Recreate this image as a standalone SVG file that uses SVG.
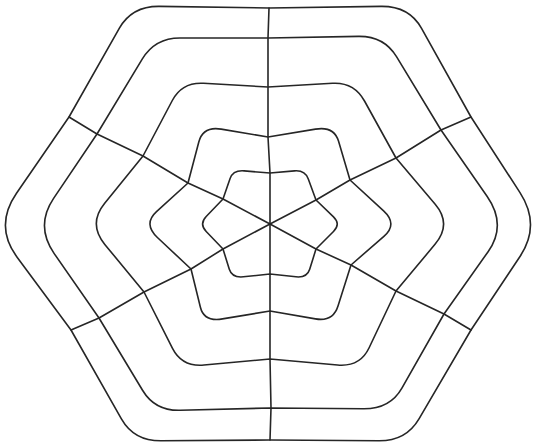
<svg xmlns="http://www.w3.org/2000/svg" width="533" height="447" viewBox="0 0 533 447">
<style>
.w{fill:none;stroke:#262626;stroke-width:1.6;stroke-linejoin:round;stroke-linecap:round}
</style>
<rect width="533" height="447" fill="#ffffff"/>
<g id="rings" class="w">
<path id="ring1" d="M269,8 L381,6.4 Q409,6 421.4,28.2 L471,117 L520,192.6 Q541,225 520,256.5 L471,330 L419,418.8 Q406,441 378.8,440.8 L270,440 L161.2,440.8 Q134,441 121.4,418.8 L71,330 L17.1,257.2 Q-6,226 16.5,193.3 L69,117 L119.4,28.2 Q132,6 159.4,6.4 Z"/>
<path id="ring2" d="M268,38 L358.5,36.4 Q384,36 396.5,56.7 L441,130 L487.2,196.5 Q507,225 488.1,251.7 L444,314 L401.9,388.1 Q390,409 363.6,408.8 L270,408 L180.3,410.3 Q155,411 142.7,390.5 L99,318 L54.2,253.6 Q35,226 53.6,198.4 L97,134 L142.2,59.1 Q155,38 179.9,38 Z"/>
<path id="ring3" d="M268,87 L332.5,83.3 Q354,82 364.5,101 L396,158 L435.2,204.2 Q452,224 435.2,244.1 L396,291 L369,348 Q360,367 337.5,365 L270,359 L204,365 Q182,367 172.5,348.3 L144,292 L104.8,244.4 Q88,224 104.5,203.6 L143,156 L172.3,100.5 Q182,82 203.5,83.3 Z"/>
<path id="ring4" d="M268,137 L315.5,129.1 Q334,126 338.5,141.1 L350,180 L383.6,210.8 Q398,224 383.9,236.3 L351,265 L338,306 Q333,322 315.4,318.9 L270,311 L222.5,318.9 Q204,322 200.4,307.2 L191,269 L157.4,237.5 Q143,224 156.5,211.7 L188,183 L198.8,142 Q203,126 221.2,129.1 Z"/>
<path id="ring5" d="M270,173 L294.5,170.9 Q305,170 308.3,179 L316,200 L333.5,216.8 Q341,224 333.5,231.5 L316,249 L309.7,269.3 Q307,278 295.9,276.8 L270,274 L243.4,276.8 Q232,278 229.3,269.3 L223,249 L206.2,231.5 Q199,224 206.2,216.5 L223,199 L230,178.7 Q233,170 244.1,170.9 Z"/>
</g>
<g id="spokes" class="w">
<polyline id="spoke-up" points="270,224 270,173 268,137 268,87 268,38 269,8"/>
<polyline id="spoke-down" points="270,224 270,274 270,311 270,359 271,408 270,440"/>
<polyline id="spoke-upper-right" points="270,224 316,200 350,180 396,158 441,130 471,117"/>
<polyline id="spoke-lower-right" points="270,224 316,249 351,265 396,291 444,314 471,330"/>
<polyline id="spoke-lower-left" points="270,224 223,249 191,269 144,292 99,318 71,330"/>
<polyline id="spoke-upper-left" points="270,224 223,199 188,183 143,156 97,134 69,117"/>
</g>
</svg>
